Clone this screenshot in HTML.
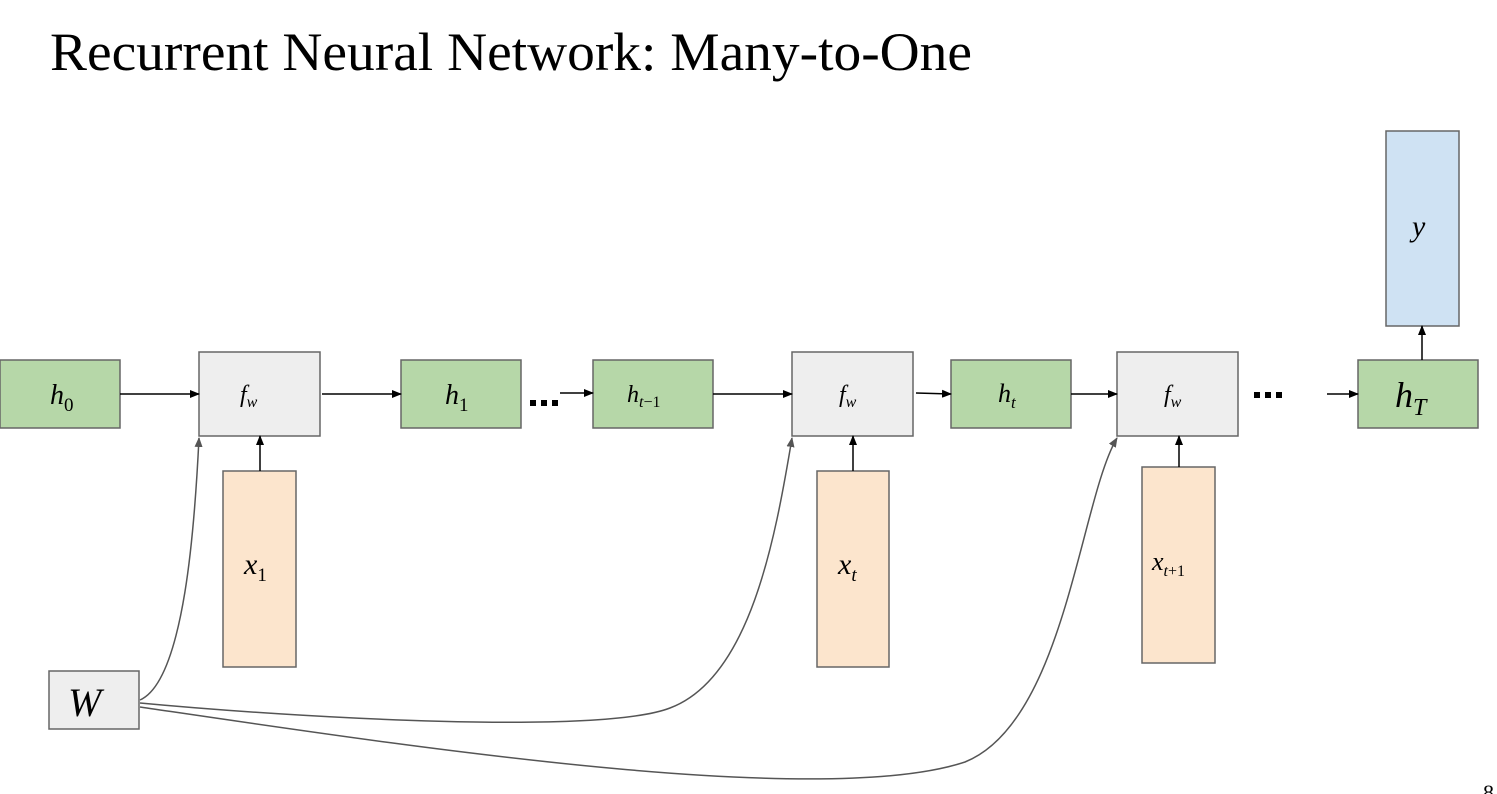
<!DOCTYPE html>
<html><head><meta charset="utf-8"><style>
html,body{margin:0;padding:0;background:#fff;}
svg{display:block;}
text{font-family:"Liberation Serif",serif;}
.m{font-style:italic;}
</style></head><body>
<svg width="1497" height="794" viewBox="0 0 1497 794" xmlns="http://www.w3.org/2000/svg">
<defs>
<marker id="a" markerWidth="10" markerHeight="8" refX="9" refY="4" orient="auto" markerUnits="userSpaceOnUse"><path d="M0,0 L10,4 L0,8 z" fill="#000"/></marker>
<marker id="g" markerWidth="10" markerHeight="8" refX="9" refY="4" orient="auto" markerUnits="userSpaceOnUse"><path d="M0,0 L10,4 L0,8 z" fill="#555"/></marker>
</defs>
<text x="50" y="70" font-size="54" fill="#000" textLength="922" lengthAdjust="spacingAndGlyphs">Recurrent Neural Network: Many-to-One</text>
<g stroke="#666" stroke-width="1.5">
<rect x="0" y="360" width="120" height="68" fill="#b6d7a8"/>
<rect x="199" y="352" width="121" height="84" fill="#eeeeee"/>
<rect x="401" y="360" width="120" height="68" fill="#b6d7a8"/>
<rect x="593" y="360" width="120" height="68" fill="#b6d7a8"/>
<rect x="792" y="352" width="121" height="84" fill="#eeeeee"/>
<rect x="951" y="360" width="120" height="68" fill="#b6d7a8"/>
<rect x="1117" y="352" width="121" height="84" fill="#eeeeee"/>
<rect x="1358" y="360" width="120" height="68" fill="#b6d7a8"/>
<rect x="1386" y="131" width="73" height="195" fill="#cfe2f3"/>
<rect x="223" y="471" width="73" height="196" fill="#fce5cd"/>
<rect x="817" y="471" width="72" height="196" fill="#fce5cd"/>
<rect x="1142" y="467" width="73" height="196" fill="#fce5cd"/>
<rect x="49" y="671" width="90" height="58" fill="#eeeeee"/>
</g>
<g stroke="#000" stroke-width="1.5" fill="none" marker-end="url(#a)">
<line x1="120" y1="394" x2="199" y2="394"/>
<line x1="322" y1="394" x2="401" y2="394"/>
<line x1="560" y1="393" x2="593" y2="393"/>
<line x1="713" y1="394" x2="792" y2="394"/>
<line x1="916" y1="393" x2="951" y2="394"/>
<line x1="1071" y1="394" x2="1117" y2="394"/>
<line x1="1327" y1="394" x2="1358" y2="394"/>
<line x1="1422" y1="360" x2="1422" y2="326"/>
<line x1="260" y1="471" x2="260" y2="436"/>
<line x1="853" y1="471" x2="853" y2="436"/>
<line x1="1179" y1="467" x2="1179" y2="436"/>
</g>
<g stroke="#555" stroke-width="1.5" fill="none" marker-end="url(#g)">
<path d="M140,700 C185,680 195,520 199,438"/>
<path d="M140,703 C300,718 600,735 670,708 C750,678 775,540 792,438"/>
<path d="M140,707 C400,745 820,810 965,762 C1065,722 1080,500 1117,438"/>
</g>
<g fill="#000">
<rect x="530" y="400" width="6" height="6"/><rect x="541" y="400" width="6" height="6"/><rect x="552" y="400" width="6" height="6"/>
<rect x="1254" y="392" width="6" height="6"/><rect x="1265" y="392" width="6" height="6"/><rect x="1276" y="392" width="6" height="6"/>
</g>
<g fill="#000">
<text x="50" y="404" font-size="28" class="m">h<tspan font-size="19" font-style="normal" dy="7">0</tspan></text>
<text x="240" y="402" font-size="24" class="m">f<tspan font-size="16" dy="5">w</tspan></text>
<text x="445" y="404" font-size="28" class="m">h<tspan font-size="19" font-style="normal" dy="7">1</tspan></text>
<text x="627" y="402" font-size="24" class="m">h<tspan font-size="16" dy="5">t</tspan><tspan font-size="16" font-style="normal">−1</tspan></text>
<text x="839" y="402" font-size="24" class="m">f<tspan font-size="16" dy="5">w</tspan></text>
<text x="998" y="402" font-size="26" class="m">h<tspan font-size="17" dy="6">t</tspan></text>
<text x="1164" y="402" font-size="24" class="m">f<tspan font-size="16" dy="5">w</tspan></text>
<text x="1395" y="407" font-size="36" class="m">h<tspan font-size="24" dy="8">T</tspan></text>
<text x="1412" y="236" font-size="30" class="m">y</text>
<text x="244" y="574" font-size="30" class="m">x<tspan font-size="19" font-style="normal" dy="7">1</tspan></text>
<text x="838" y="574" font-size="30" class="m">x<tspan font-size="19" dy="7">t</tspan></text>
<text x="1152" y="570" font-size="26" class="m">x<tspan font-size="16" dy="6">t</tspan><tspan font-size="16" font-style="normal">+1</tspan></text>
<text x="68" y="716" font-size="40" class="m">W</text>
<text x="1483" y="800" font-size="22" font-family="Liberation Sans">8</text>
</g>
</svg>
</body></html>
